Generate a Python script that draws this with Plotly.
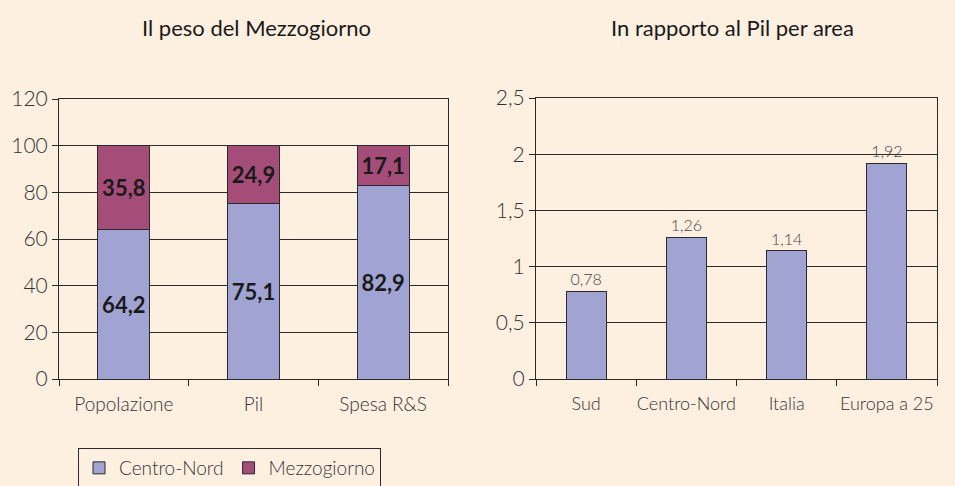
import plotly.graph_objects as go

# Left chart data
cat_left = ["Popolazione", "Pil", "Spesa R&S"]
centro_nord = [64.2, 75.1, 82.9]
mezzogiorno = [35.8, 24.9, 17.1]
left_ticks = [0, 20, 40, 60, 80, 100, 120]

# Right chart data
cat_right = ["Sud", "Centro-Nord", "Italia", "Europa a 25"]
rapporto = [0.78, 1.26, 1.14, 1.92]
right_tickvals = [0, 0.5, 1, 1.5, 2, 2.5]
right_ticktext = ["0", "0,5", "1", "1,5", "2", "2,5"]

BG = "#FEF0E1"
C_CN = "#A1A4D3"
C_MZ = "#A54D79"
LINE = "#2a2a2a"
FONT = "Lato"
W, H = 955, 486

fig = go.Figure()
fig.add_trace(go.Bar(
    x=cat_left, y=centro_nord, name="Centro-Nord", marker=dict(color=C_CN, line=dict(color=LINE, width=1)),
    width=0.4, texttemplate="%{y:.1f}", textposition="inside", insidetextanchor="middle",
    textfont=dict(family=FONT, size=22, color="#1a1a1a", weight="bold"),
    xaxis="x", yaxis="y"))
fig.add_trace(go.Bar(
    x=cat_left, y=mezzogiorno, name="Mezzogiorno", marker=dict(color=C_MZ, line=dict(color=LINE, width=1)),
    width=0.4, texttemplate="%{y:.1f}", textposition="inside", insidetextanchor="middle",
    textfont=dict(family=FONT, size=22, color="#1a1a1a", weight="bold"),
    xaxis="x", yaxis="y"))
fig.add_trace(go.Bar(
    x=cat_right, y=rapporto, name="rapporto", showlegend=False,
    marker=dict(color=C_CN, line=dict(color=LINE, width=1)),
    width=0.4, texttemplate="%{y:.2f}", textposition="outside", cliponaxis=False,
    textfont=dict(family=FONT, size=16, color="#444444", weight=300),
    xaxis="x2", yaxis="y2"))

def ydom(top, bottom):
    return [(H - bottom) / H, (H - top) / H]

ytick_font = dict(family=FONT, size=21, color="#333333", weight=300)
xtick_font = dict(family=FONT, size=19, color="#333333", weight=300)
xtick_font2 = dict(family=FONT, size=18, color="#333333", weight=300)

common = dict(showline=True, linecolor=LINE, linewidth=1, mirror=True, automargin=False,
              ticks="outside", ticklen=6, tickcolor=LINE)

fig.update_layout(
    width=W, height=H, margin=dict(l=0, r=0, t=0, b=0, autoexpand=False),
    paper_bgcolor=BG, plot_bgcolor=BG, barmode="stack", separators=",.",
    font=dict(family=FONT, color="#333333"),
    xaxis=dict(domain=[59 / W, 448 / W], anchor="y", tickson="boundaries", showgrid=False,
               tickfont=xtick_font, ticklabelstandoff=8, tickangle=0, **common),
    yaxis=dict(domain=ydom(99, 379), anchor="x", range=[0, 120], tickvals=left_ticks,
               showgrid=True, gridcolor=LINE, gridwidth=1, zeroline=False,
               tickfont=ytick_font, **common),
    xaxis2=dict(domain=[536 / W, 937 / W], anchor="y2", tickson="boundaries", showgrid=False,
                tickfont=xtick_font2, ticklabelstandoff=8, tickangle=0, **common),
    yaxis2=dict(domain=ydom(98, 379), anchor="x2", range=[0, 2.5], tickvals=right_tickvals,
                ticktext=right_ticktext, showgrid=True, gridcolor=LINE, gridwidth=1, zeroline=False,
                tickfont=ytick_font, **common),
    legend=dict(orientation="h", x=78 / W, y=(H - 448) / H, xanchor="left", yanchor="top",
                bordercolor=LINE, borderwidth=1, bgcolor=BG,
                font=dict(family=FONT, size=19, color="#333333", weight=300), traceorder="normal"),
    annotations=[
        dict(text="Il peso del Mezzogiorno", x=256 / W, y=(H - 28) / H, xref="paper", yref="paper",
             showarrow=False, xanchor="center", yanchor="middle",
             font=dict(family=FONT, size=22, color="#1a1a1a")),
        dict(text="In rapporto al Pil per area", x=732 / W, y=(H - 28) / H, xref="paper", yref="paper",
             showarrow=False, xanchor="center", yanchor="middle",
             font=dict(family=FONT, size=22, color="#1a1a1a")),
    ],
)

fig.write_html("out.html", config={"displayModeBar": False},
               post_script="document.body.style.margin='0';")
